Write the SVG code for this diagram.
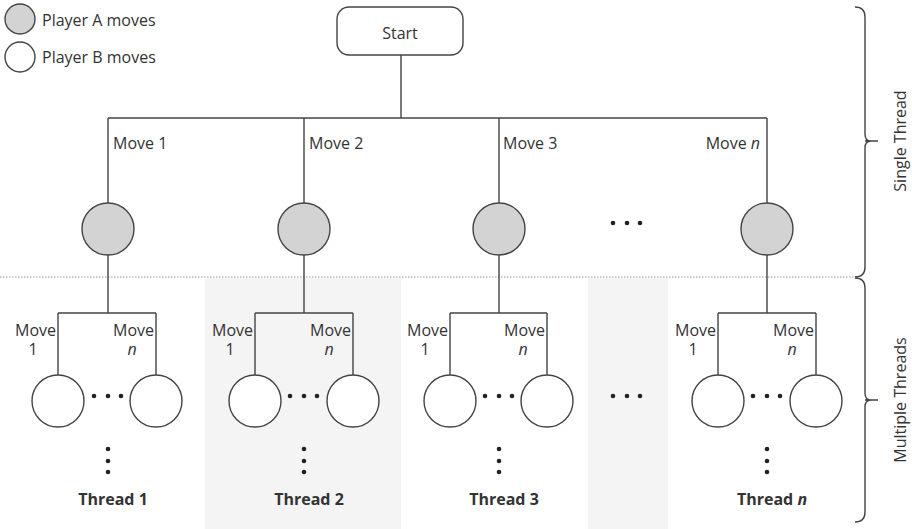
<svg xmlns="http://www.w3.org/2000/svg" width="912" height="529" viewBox="0 0 912 529">
<style>
text{font-family:"Open Sans","Noto Sans",sans-serif;font-size:16px;fill:#333}
.b{font-weight:bold}
.i{font-style:italic}
.e{text-anchor:end}
.m{text-anchor:middle}
.ln{stroke:#444;stroke-width:1.4;fill:none}
.a{fill:#d3d3d3;stroke:#444;stroke-width:1.4}
.w{fill:#fff;stroke:#444;stroke-width:1.4}
.d{fill:#222}
.sh{fill:#f4f4f4}
</style>
<rect width="912" height="529" fill="#fff"/>
<rect class="sh" x="205" y="278" width="196" height="251"/>
<rect class="sh" x="588" y="278" width="80" height="251"/>
<line x1="0" y1="277" x2="855" y2="277" stroke="#999" stroke-width="1" stroke-dasharray="1.5,1.5"/>

<g id="legend">
<circle class="a" cx="20" cy="19" r="15"/>
<text x="42" y="26">Player A moves</text>
<circle class="w" cx="20" cy="57" r="15"/>
<text x="42" y="63">Player B moves</text>
</g>

<g id="connectors">
<path class="ln" d="M401,55V118M108,118H767M108,118V203M304,118V203M499,118V203M767,118V203"/>
<path class="ln" d="M108,255V313M58,313H156M58,313V375M156,313V375"/>
<path class="ln" d="M304,255V313M255,313H353M255,313V375M353,313V375"/>
<path class="ln" d="M499,255V313M450,313H547M450,313V375M547,313V375"/>
<path class="ln" d="M767,255V313M718,313H816M718,313V375M816,313V375"/>
<text x="113" y="149">Move 1</text>
<text x="309" y="149">Move 2</text>
<text x="503" y="149">Move 3</text>
<text x="760" y="149" class="e">Move <tspan class="i">n</tspan></text>
</g>

<g id="start">
<rect class="w" x="337" y="7" width="126" height="48" rx="12"/>
<text x="400" y="39" class="m">Start</text>
</g>

<g id="a1"><circle class="a" cx="108" cy="229" r="26"/></g>
<g id="a2"><circle class="a" cx="304" cy="229" r="26"/></g>
<g id="a3"><circle class="a" cx="499" cy="229" r="26"/></g>
<g id="an"><circle class="a" cx="767" cy="229" r="26"/></g>
<g id="dots-top"><circle class="d" cx="613" cy="223" r="2.3"/><circle class="d" cx="627" cy="223" r="2.3"/><circle class="d" cx="640" cy="223" r="2.3"/></g>

<g id="thread1">
<text><tspan class="e" x="56" y="336">Move</tspan><tspan class="m" x="33" y="355">1</tspan></text>
<text><tspan class="e" x="154" y="336">Move</tspan><tspan class="m i" x="132" y="355">n</tspan></text>
<circle class="w" cx="58" cy="401" r="26"/><circle class="w" cx="156" cy="401" r="26"/>
<circle class="d" cx="94" cy="396" r="2.3"/><circle class="d" cx="108" cy="396" r="2.3"/><circle class="d" cx="121" cy="396" r="2.3"/>
<circle class="d" cx="108" cy="449" r="2.3"/><circle class="d" cx="108" cy="461" r="2.3"/><circle class="d" cx="108" cy="472" r="2.3"/>
<text class="b m" x="113" y="505">Thread 1</text>
</g>

<g id="thread2">
<text><tspan class="e" x="253" y="336">Move</tspan><tspan class="m" x="230" y="355">1</tspan></text>
<text><tspan class="e" x="351" y="336">Move</tspan><tspan class="m i" x="329" y="355">n</tspan></text>
<circle class="w" cx="255" cy="401" r="26"/><circle class="w" cx="353" cy="401" r="26"/>
<circle class="d" cx="290" cy="396" r="2.3"/><circle class="d" cx="304" cy="396" r="2.3"/><circle class="d" cx="317" cy="396" r="2.3"/>
<circle class="d" cx="304" cy="449" r="2.3"/><circle class="d" cx="304" cy="461" r="2.3"/><circle class="d" cx="304" cy="472" r="2.3"/>
<text class="b m" x="309" y="505">Thread 2</text>
</g>

<g id="thread3">
<text><tspan class="e" x="448" y="336">Move</tspan><tspan class="m" x="425" y="355">1</tspan></text>
<text><tspan class="e" x="545" y="336">Move</tspan><tspan class="m i" x="523" y="355">n</tspan></text>
<circle class="w" cx="450" cy="401" r="26"/><circle class="w" cx="547" cy="401" r="26"/>
<circle class="d" cx="485" cy="396" r="2.3"/><circle class="d" cx="499" cy="396" r="2.3"/><circle class="d" cx="512" cy="396" r="2.3"/>
<circle class="d" cx="499" cy="449" r="2.3"/><circle class="d" cx="499" cy="461" r="2.3"/><circle class="d" cx="499" cy="472" r="2.3"/>
<text class="b m" x="504" y="505">Thread 3</text>
</g>

<g id="dots-bottom"><circle class="d" cx="613" cy="396" r="2.3"/><circle class="d" cx="627" cy="396" r="2.3"/><circle class="d" cx="640" cy="396" r="2.3"/></g>

<g id="threadn">
<text><tspan class="e" x="716" y="336">Move</tspan><tspan class="m" x="693" y="355">1</tspan></text>
<text><tspan class="e" x="814" y="336">Move</tspan><tspan class="m i" x="792" y="355">n</tspan></text>
<circle class="w" cx="718" cy="401" r="26"/><circle class="w" cx="816" cy="401" r="26"/>
<circle class="d" cx="753" cy="396" r="2.3"/><circle class="d" cx="767" cy="396" r="2.3"/><circle class="d" cx="780" cy="396" r="2.3"/>
<circle class="d" cx="767" cy="449" r="2.3"/><circle class="d" cx="767" cy="461" r="2.3"/><circle class="d" cx="767" cy="472" r="2.3"/>
<text class="b m" x="772" y="505">Thread <tspan class="i">n</tspan></text>
</g>

<g id="brace-single">
<path class="ln" d="M855,7Q865,7 865,17V134Q865,141 871,141Q865,141 865,148V267Q865,277 855,277M865,141H878"/>
<text transform="translate(906,141) rotate(-90)" class="m">Single Thread</text>
</g>
<g id="brace-multi">
<path class="ln" d="M855,278Q865,278 865,288V393Q865,400 871,400Q865,400 865,407V512Q865,522 855,522M865,400H878"/>
<text transform="translate(906,400) rotate(-90)" class="m">Multiple Threads</text>
</g>
</svg>
